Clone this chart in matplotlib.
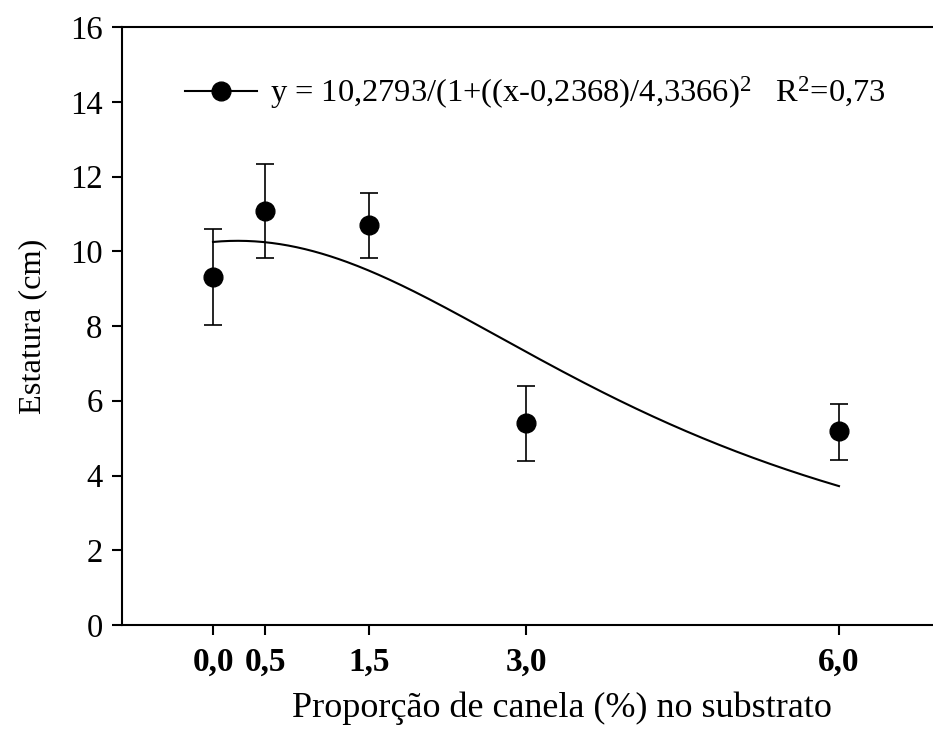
import numpy as np
import matplotlib
matplotlib.use("Agg")
import matplotlib.pyplot as plt

# Data
x_vals = [0.0, 0.5, 1.5, 3.0, 6.0]
y_means = [9.32, 11.09, 10.70, 5.40, 5.18]
y_err_up = [1.28, 1.24, 0.86, 0.99, 0.73]
y_err_dn = [1.30, 1.27, 0.87, 1.00, 0.77]
x_tick_labels = ["0,0", "0,5", "1,5", "3,0", "6,0"]
y_ticks = [0, 2, 4, 6, 8, 10, 12, 14, 16]

# Fitted curve parameters (from legend equation)
a_par, x0_par, b_par = 10.2793, 0.2368, 4.3366
legend_text = "y = 10,2793/(1+((x-0,2368)/4,3366)$^{2}$   R$^{2}$=0,73"

plt.rcParams['font.family'] = ['Liberation Serif', 'DejaVu Serif']
plt.rcParams['mathtext.fontset'] = 'custom'
plt.rcParams['mathtext.rm'] = 'Liberation Serif'
plt.rcParams['mathtext.it'] = 'Liberation Serif:italic'
plt.rcParams['mathtext.bf'] = 'Liberation Serif:bold'

fig = plt.figure(figsize=(9.33, 7.36), dpi=100)
ax = fig.add_axes([122/933, 1-625/736, 1-122/933, (625-27)/736])

xc = np.linspace(0, 6, 300)
yc = a_par / (1 + ((xc - x0_par) / b_par) ** 2)
ax.plot(xc, yc, color='black', lw=1.5, zorder=2)

ax.errorbar(x_vals, y_means, yerr=[y_err_dn, y_err_up], fmt='none',
            ecolor='black', elinewidth=1.2, capsize=6.5, capthick=1.2, zorder=3)
ax.plot(x_vals, y_means, 'o', color='black', markersize=13.5, zorder=4)

# Legend handle
handle, = ax.plot([], [], '-o', color='black', lw=1.5, markersize=13.5)
leg = fig.legend([handle], [legend_text], loc='center left',
                 bbox_to_anchor=(185/933, 1-93/736), frameon=False,
                 borderpad=0, borderaxespad=0, handlelength=2.2,
                 handletextpad=0.42, fontsize=23.4, numpoints=1)

ax.set_xlim((122-213)/104.33, (933-213)/104.33)
ax.set_ylim(0, 16)
ax.set_xticks(x_vals)
ax.set_xticklabels(x_tick_labels, fontweight='bold')
ax.set_yticks(y_ticks)

for s in ['left', 'top', 'bottom']:
    ax.spines[s].set_linewidth(1.5)
ax.spines['right'].set_visible(False)

ax.tick_params(axis='both', direction='out', length=7, width=1.5,
               labelsize=23.5, pad=7)
ax.tick_params(axis='x', labelsize=24, pad=9)

ax.set_xlabel("Proporção de canela (%) no substrato", fontsize=26)
ax.xaxis.set_label_coords((562-122)/(933-122), -(708-625)/(625-27), transform=ax.transAxes)
ax.xaxis.label.set_verticalalignment('center')
ax.set_ylabel("Estatura (cm)", fontsize=23.3, labelpad=16)

fig.savefig("out.png", dpi=100)
